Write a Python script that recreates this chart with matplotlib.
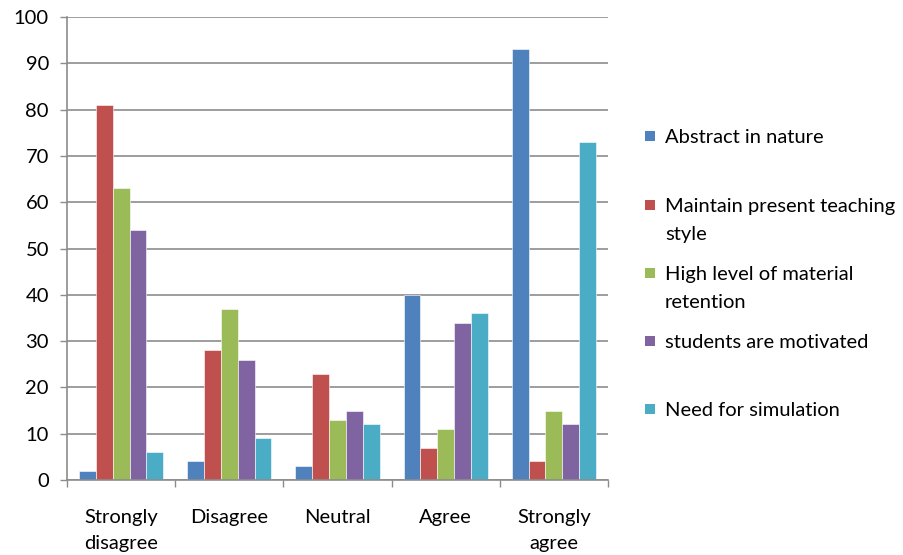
import matplotlib
matplotlib.use("Agg")
import matplotlib.pyplot as plt
from matplotlib.patches import Rectangle
import numpy as np

plt.rcParams["font.family"] = ["Lato", "DejaVu Sans"]

# ── Données ───────────────────────────────────────────────────────────────────
categories = ["Strongly\ndisagree", "Disagree", "Neutral", "Agree", "Strongly\nagree"]
series_names = [
    "Abstract in nature",
    "Maintain present teaching\nstyle",
    "High level of material\nretention",
    "students are motivated",
    "Need for simulation",
]
abstract_in_nature = [2, 4, 3, 40, 93]
maintain_style     = [81, 28, 23, 7, 4]
material_retention = [63, 37, 13, 11, 15]
students_motivated = [54, 26, 15, 34, 12]
need_simulation    = [6, 9, 12, 36, 73]
y_ticks = list(range(0, 101, 10))

series = [abstract_in_nature, maintain_style, material_retention,
          students_motivated, need_simulation]
colors = ["#4F81BD", "#C0504D", "#9BBB59", "#8064A2", "#4BACC6"]
grid_col = "#8C8C8C"
fs = 14.5

# ── Figure ────────────────────────────────────────────────────────────────────
fig = plt.figure(figsize=(9.04, 5.55), dpi=100)
ax = fig.add_axes([67 / 904, 1 - 480 / 555, (608 - 67) / 904, (480 - 17) / 555])

x = np.arange(len(categories))
bw = 0.156
for i, (vals, col) in enumerate(zip(series, colors)):
    ax.bar(x + (i - 2) * bw, vals, width=bw, color=col,
           edgecolor="white", linewidth=0.4, zorder=3)

ax.set_xlim(-0.5, len(categories) - 0.5)
ax.set_ylim(0, 100)
ax.set_yticks(y_ticks)
ax.yaxis.grid(True, color=grid_col, linewidth=1.2, zorder=0)
ax.tick_params(axis="y", length=5, width=1, color=grid_col, pad=8,
               labelsize=fs, labelcolor="black")

# ticks aux frontières, étiquettes au centre
ax.set_xticks(np.arange(-0.5, len(categories), 1.0))
ax.set_xticklabels([])
ax.set_xticks(x, minor=True)
ax.set_xticklabels(categories, minor=True, fontsize=fs, linespacing=1.6)
ax.tick_params(axis="x", which="major", length=5, width=1, color=grid_col)
ax.tick_params(axis="x", which="minor", length=0, pad=21)

for side in ["top", "right"]:
    ax.spines[side].set_visible(False)
for side in ["left", "bottom"]:
    ax.spines[side].set_color(grid_col)
    ax.spines[side].set_linewidth(1.2)
ax.spines["bottom"].set_zorder(4)

# ── Légende ───────────────────────────────────────────────────────────────────
leg_y = [136, 205, 273, 341, 409]
for name, col, yp in zip(series_names, colors, leg_y):
    fig.patches.append(Rectangle((645 / 904, 1 - (yp + 5) / 555), 10 / 904, 10 / 555,
                                 transform=fig.transFigure, facecolor=col,
                                 edgecolor="none"))
    fig.text(665 / 904, 1 - (yp - 7) / 555, name, fontsize=fs, va="top",
             ha="left", linespacing=1.8)

fig.savefig("out.png", dpi=100)
